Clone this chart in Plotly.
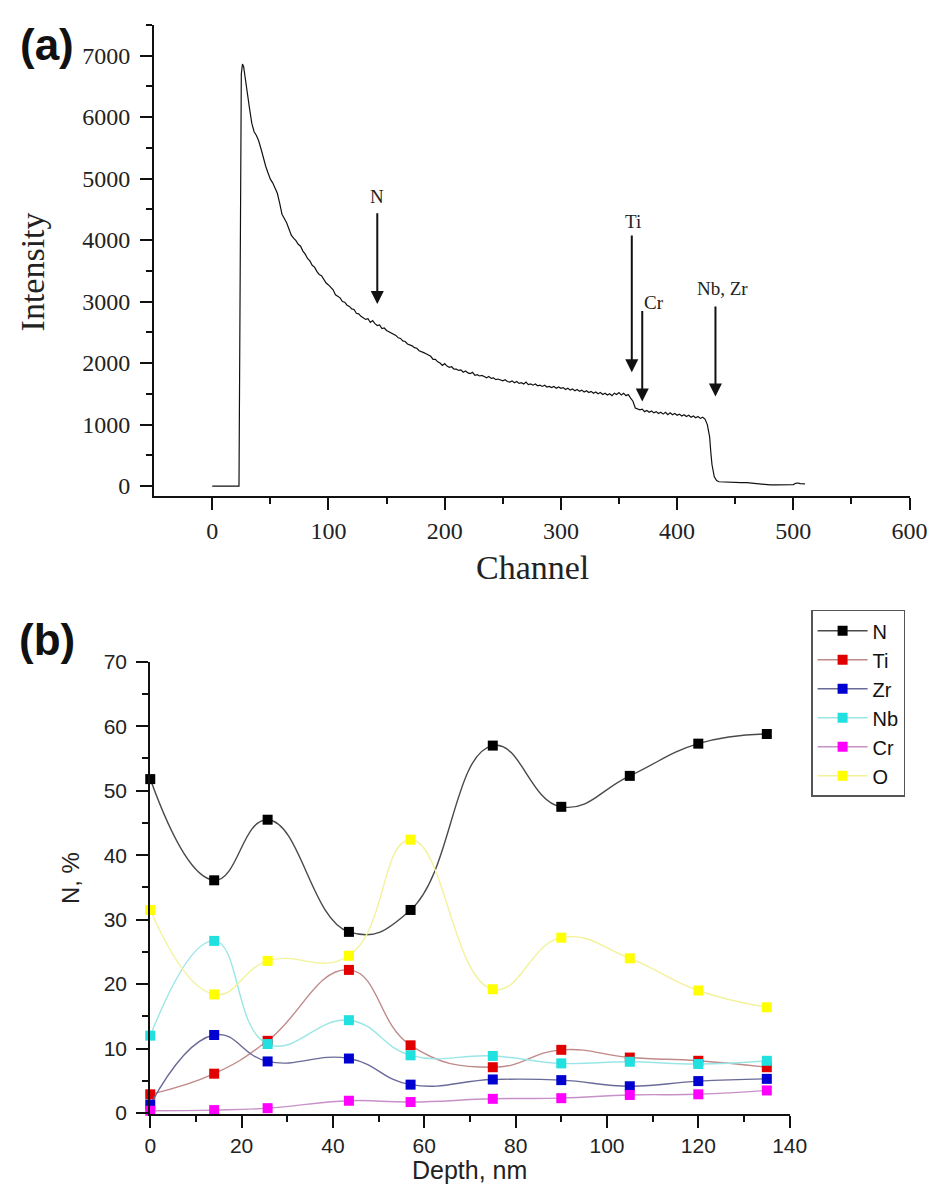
import plotly.graph_objects as go

# ---------------- Panel (a): RBS spectrum ----------------
channel = [0, 22, 23, 25, 26, 27, 28, 30, 32, 34, 36, 38, 40, 42, 44, 46, 48, 50, 52, 54, 56, 58,
           60, 62, 64, 66, 68, 70, 72, 74, 76, 78, 80, 82, 84, 86, 88, 90, 92, 94, 96, 98,
           100, 102, 104, 106, 108, 110, 112, 114, 116, 118, 120, 122, 124, 126, 128, 130,
           132, 134, 136, 138, 140, 142, 144, 146, 148, 150, 152, 154, 156, 158, 160, 162,
           164, 166, 168, 170, 172, 174, 176, 178, 180, 182, 184, 186, 188, 190, 192, 194,
           196, 198, 200, 202, 204, 206, 208, 210, 212, 214, 216, 218, 220, 222, 224, 226,
           228, 230, 232, 234, 236, 238, 240, 242, 244, 246, 248, 250, 252, 254, 256, 258,
           260, 262, 264, 266, 268, 270, 272, 274, 276, 278, 280, 282, 284, 286, 288, 290,
           292, 294, 296, 298, 300, 302, 304, 306, 308, 310, 312, 314, 316, 318, 320, 322,
           324, 326, 328, 330, 332, 334, 336, 338, 340, 342, 344, 346, 348, 350, 352, 354,
           356, 358, 360, 362, 364, 366, 368, 370, 372, 374, 376, 378, 380, 382, 384, 386,
           388, 390, 392, 394, 396, 398, 400, 402, 404, 406, 408, 410, 412, 414, 416, 418,
           420, 422, 424, 426, 428, 429, 430, 432, 434, 436, 440, 445, 450, 455, 460, 465,
           470, 475, 480, 485, 490, 495, 500, 502, 504, 506, 508, 510]
intensity = [0, 0, 0, 6700, 6860, 6820, 6700, 6420, 6150, 5900, 5760, 5700, 5610, 5480, 5330, 5200, 5090, 4990, 4930, 4850, 4760, 4600,
             4420, 4350, 4280, 4180, 4080, 4030, 3990, 3930, 3900, 3820, 3770, 3700, 3660, 3590, 3560, 3490, 3440, 3420, 3350, 3300,
             3270, 3220, 3190, 3110, 3080, 3060, 3000, 2990, 2940, 2920, 2880, 2870, 2810, 2800, 2760, 2740,
             2710, 2720, 2660, 2690, 2640, 2610, 2620, 2560, 2570, 2530, 2510, 2480, 2460, 2450, 2410, 2400,
             2360, 2350, 2310, 2300, 2280, 2250, 2240, 2200, 2190, 2170, 2150, 2130, 2110, 2060, 2060, 2020,
             2000, 1960, 1990, 1950, 1930, 1940, 1900, 1900, 1880, 1890, 1850, 1870, 1840, 1830, 1850, 1800,
             1810, 1790, 1800, 1780, 1760, 1780, 1750, 1760, 1730, 1740, 1730, 1710, 1730, 1700, 1690, 1710,
             1680, 1700, 1670, 1680, 1660, 1690, 1650, 1660, 1640, 1660, 1630, 1640, 1620, 1640, 1610, 1620,
             1600, 1620, 1590, 1610, 1590, 1600, 1570, 1590, 1560, 1580, 1550, 1570, 1540, 1560, 1530, 1550,
             1520, 1540, 1510, 1530, 1500, 1520, 1490, 1510, 1480, 1500, 1470, 1510, 1490, 1520, 1480, 1510,
             1470, 1490, 1430, 1380, 1270, 1250, 1240, 1250, 1210, 1230, 1200, 1220, 1190, 1210, 1180, 1200,
             1170, 1200, 1160, 1190, 1160, 1180, 1150, 1170, 1140, 1160, 1130, 1150, 1120, 1140, 1110, 1130,
             1100, 1120, 1090, 1000, 800, 550, 350, 150, 90, 70, 65, 60, 60, 55, 55, 45,
             35, 25, 20, 20, 20, 18, 25, 45, 50, 40, 40, 35]

arrow_labels = ["N", "Ti", "Cr", "Nb, Zr"]
arrow_channel = [142, 361, 370, 433]
arrow_top = [4460, 4100, 2870, 2945]
arrow_tip = [2960, 1850, 1375, 1455]
label_channel = [142, 362, 380.5, 438.8]
label_value = [4700, 4300, 2980, 3205]

# ---------------- Panel (b): depth profile ----------------
depth = [0, 14, 25.7, 43.5, 57, 75, 90, 105, 120, 135]
elements = ["N", "Ti", "Zr", "Nb", "Cr", "O"]
conc_N = [51.8, 36.1, 45.5, 28.1, 31.5, 57.0, 47.5, 52.3, 57.3, 58.8]
conc_Ti = [2.9, 6.1, 11.2, 22.2, 10.5, 7.1, 9.8, 8.6, 8.1, 7.1]
conc_Zr = [1.3, 12.1, 8.0, 8.45, 4.4, 5.2, 5.1, 4.15, 4.95, 5.3]
conc_Nb = [12.0, 26.7, 10.7, 14.4, 8.95, 8.85, 7.7, 7.95, 7.6, 8.1]
conc_Cr = [0.35, 0.45, 0.75, 1.9, 1.7, 2.2, 2.3, 2.8, 2.9, 3.5]
conc_O = [31.5, 18.4, 23.6, 24.4, 42.4, 19.2, 27.2, 24.0, 19.0, 16.4]
series = [conc_N, conc_Ti, conc_Zr, conc_Nb, conc_Cr, conc_O]
marker_colors = ["#000000", "#e00000", "#0000d0", "#20e0e0", "#ff00ff", "#ffff00"]
line_colors = ["#4a4a4a", "#c08a8a", "#6a6a98", "#9ae6e6", "#c890c8", "#f2f29a"]

W, H = 948, 1193
fig = go.Figure()

fig.add_trace(go.Scatter(x=channel, y=intensity, mode="lines",
                         line=dict(color="#111111", width=1.2), showlegend=False,
                         xaxis="x", yaxis="y"))

for name, vals, mc, lc in zip(elements, series, marker_colors, line_colors):
    fig.add_trace(go.Scatter(x=depth, y=vals, mode="lines+markers", name=name,
                             line=dict(color=lc, width=1.4, shape="spline", smoothing=1.3),
                             marker=dict(symbol="square", size=10, color=mc,
                                         line=dict(width=0)),
                             cliponaxis=False, xaxis="x2", yaxis="y2"))

def px_x(p):
    return p / W

def px_y(p):
    return 1 - p / H

serif = "Liberation Serif, Times New Roman, serif"
sans = "Liberation Sans, Arial, sans-serif"

common_axis = dict(showline=True, linecolor="#111111", linewidth=2, ticks="outside",
                   tickwidth=2, ticklen=12, tickcolor="#111111", showgrid=False,
                   zeroline=False, mirror=False)

def minor(vals):
    return dict(tickvals=vals, ticklen=6, tickwidth=2, ticks="outside", tickcolor="#111111",
                showgrid=False)

fig.update_layout(
    width=W, height=H,
    margin=dict(l=0, r=0, t=0, b=0),
    paper_bgcolor="white", plot_bgcolor="white",
    xaxis=dict(domain=[px_x(152), px_x(927)], range=[-50, 600], tickvals=[0, 100, 200, 300, 400, 500, 600],
               tickfont=dict(family=serif, size=24, color="#222"),
               minor=minor([50, 150, 250, 350, 450, 550]),
               anchor="y", **common_axis),
    yaxis=dict(domain=[px_y(493), px_y(13)], range=[-160, 7500],
               tickvals=[0, 1000, 2000, 3000, 4000, 5000, 6000, 7000],
               tickfont=dict(family=serif, size=24, color="#222"),
               minor=minor([500, 1500, 2500, 3500, 4500, 5500, 6500, 7500]),
               ticklabelstandoff=5,
               anchor="x", **common_axis),
    xaxis2=dict(domain=[px_x(148), px_x(804)], range=[0, 140], tickvals=[0, 20, 40, 60, 80, 100, 120, 140],
                tickfont=dict(family=sans, size=21, color="#222"),
                minor=minor([10, 30, 50, 70, 90, 110, 130]),
                anchor="y2", **common_axis),
    yaxis2=dict(domain=[px_y(1123), px_y(662)], range=[-0.2, 70],
                tickvals=[0, 10, 20, 30, 40, 50, 60, 70],
                tickfont=dict(family=sans, size=21, color="#222"),
                minor=minor([5, 15, 25, 35, 45, 55, 65]),
                ticklabelstandoff=5,
                anchor="x2", **common_axis),
    legend=dict(x=px_x(826), y=px_y(609), xanchor="left", yanchor="top",
                bordercolor="#555555", borderwidth=1.5, bgcolor="white",
                font=dict(family=sans, size=20, color="#111"),
                tracegroupgap=0, itemwidth=50),
    showlegend=True,
)

annotations = []
annotations.append(dict(text="Channel", x=px_x(540), y=px_y(566), xref="paper", yref="paper",
                        showarrow=False, font=dict(family=serif, size=34, color="#222"),
                        xanchor="center", yanchor="middle"))
annotations.append(dict(text="Intensity", x=px_x(27), y=px_y(265), xref="paper", yref="paper",
                        showarrow=False, textangle=-90, font=dict(family=serif, size=34, color="#222"),
                        xanchor="center", yanchor="middle"))
annotations.append(dict(text="Depth, nm", x=px_x(476), y=px_y(1180), xref="paper", yref="paper",
                        showarrow=False, font=dict(family=sans, size=25, color="#222"),
                        xanchor="center", yanchor="middle"))
annotations.append(dict(text="N, %", x=px_x(66), y=px_y(882), xref="paper", yref="paper",
                        showarrow=False, textangle=-90, font=dict(family=sans, size=24, color="#222"),
                        xanchor="center", yanchor="middle"))
annotations.append(dict(text="<b>(a)</b>", x=px_x(42), y=px_y(33), xref="paper", yref="paper",
                        showarrow=False, font=dict(family=sans, size=44, color="#111"),
                        xanchor="center", yanchor="middle"))
annotations.append(dict(text="<b>(b)</b>", x=px_x(42), y=px_y(639), xref="paper", yref="paper",
                        showarrow=False, font=dict(family=sans, size=44, color="#111"),
                        xanchor="center", yanchor="middle"))

for lab, ch, top, tip, lch, lv in zip(arrow_labels, arrow_channel, arrow_top, arrow_tip,
                                       label_channel, label_value):
    annotations.append(dict(x=ch, y=tip, ax=ch, ay=top, xref="x", yref="y", axref="x", ayref="y",
                            text="", showarrow=True, arrowhead=2, arrowsize=1.3, arrowwidth=2,
                            arrowcolor="#111111"))
    annotations.append(dict(x=lch, y=lv, xref="x", yref="y", text=lab, showarrow=False,
                            font=dict(family=serif, size=19, color="#222"),
                            xanchor="center", yanchor="middle"))

fig.update_layout(annotations=annotations)

fig.write_html("out.html")
